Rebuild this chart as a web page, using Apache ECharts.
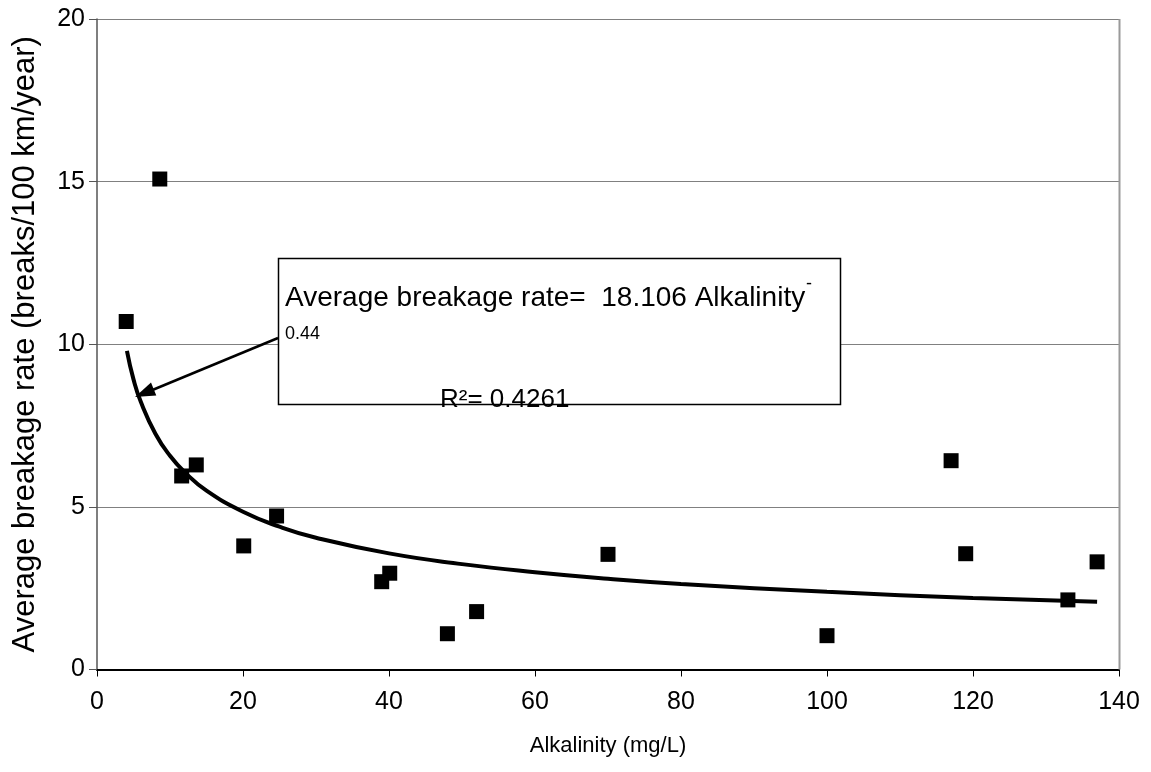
<!DOCTYPE html>
<html>
<head>
<meta charset="utf-8">
<script src="https://cdn.jsdelivr.net/npm/echarts@6/dist/echarts.min.js"></script>
<style>html,body{margin:0;padding:0;background:#fff}#c{width:1151px;height:772px}</style>
</head>
<body>
<div id="c"></div>
<script>
// Observed data points
const alkalinity = [4.0, 8.6, 11.6, 13.6, 20.1, 24.6, 39.0, 40.1, 48.0, 52.0, 70.0, 100.0, 117.0, 119.0, 133.0, 137.0];
const breakRate  = [10.70, 15.08, 5.95, 6.29, 3.80, 4.72, 2.70, 2.96, 1.10, 1.78, 3.54, 1.04, 6.42, 3.56, 2.14, 3.31];
// Power trendline as drawn in the picture
const trendX = [4.1, 5, 6, 8, 10, 12, 15, 20, 25, 30, 40, 50, 60, 70, 80, 100, 120, 137];
const trendY = [9.80, 8.92, 8.23, 7.25, 6.57, 6.07, 5.50, 4.85, 4.39, 4.05, 3.57, 3.24, 2.99, 2.79, 2.63, 2.39, 2.20, 2.08];
const xTicks = [0, 20, 40, 60, 80, 100, 120, 140];
const yTicks = [0, 5, 10, 15, 20];
const eqText = 'Average breakage rate=  18.106 Alkalinity';
const eqExp = '0.44';
const r2Text = 'R²= 0.4261';

const FONT = 'Liberation Sans, Arial, sans-serif';
const chart = echarts.init(document.getElementById('c'), null, {renderer: 'canvas'});

const option = {
  animation: false,
  backgroundColor: '#fff',
  grid: {left: 97, right: 32, top: 19, bottom: 102.5},
  xAxis: {
    type: 'value', min: xTicks[0], max: xTicks[xTicks.length - 1], interval: 20,
    name: 'Alkalinity (mg/L)', nameLocation: 'middle', nameGap: 65,
    nameTextStyle: {fontFamily: FONT, fontSize: 22, color: '#000'},
    axisLine: {show: true, onZero: false, lineStyle: {color: '#000', width: 2}},
    axisTick: {show: true, length: 7, lineStyle: {color: '#000', width: 1}},
    axisLabel: {fontFamily: FONT, fontSize: 25, color: '#000', margin: 20},
    splitLine: {show: false}
  },
  yAxis: {
    type: 'value', min: yTicks[0], max: yTicks[yTicks.length - 1], interval: 5,
    name: 'Average breakage rate (breaks/100 km/year)', nameLocation: 'middle', nameGap: 56,
    nameTextStyle: {fontFamily: FONT, fontSize: 31, color: '#000'},
    axisLine: {show: true, onZero: false, lineStyle: {color: '#555', width: 1.5}},
    axisTick: {show: true, inside: false, length: 8, lineStyle: {color: '#555', width: 1}},
    axisLabel: {fontFamily: FONT, fontSize: 25, color: '#000', margin: 12},
    splitLine: {show: true, lineStyle: {color: '#808080', width: 1}}
  },
  series: [
    {
      type: 'line', data: trendX.map((x, i) => [x, trendY[i]]),
      smooth: true, showSymbol: false, symbol: 'none',
      lineStyle: {color: '#000', width: 4}, z: 2
    },
    {
      type: 'scatter', data: alkalinity.map((x, i) => [x, breakRate[i]]),
      symbol: 'rect', symbolSize: 15,
      itemStyle: {color: '#000', opacity: 1, borderRadius: 2}, z: 3
    }
  ],
  graphic: [
    // right border of plot area
    {type: 'line', shape: {x1: 1119.5, y1: 19, x2: 1119.5, y2: 669.5}, style: {stroke: '#9a9a9a', lineWidth: 2}, z: 1},
    // annotation box
    {type: 'rect', shape: {x: 278.5, y: 258.5, width: 562, height: 146}, style: {fill: '#fff', stroke: '#000', lineWidth: 1.5}, z: 10},
    {type: 'text', x: 285, y: 298, style: {text: eqText, font: '28px ' + FONT, fill: '#000', textVerticalAlign: 'middle'}, z: 11},
    {type: 'text', x: 806, y: 284, style: {text: '-', font: '18px ' + FONT, fill: '#000', textVerticalAlign: 'middle'}, z: 11},
    {type: 'text', x: 285, y: 334, style: {text: eqExp, font: '18px ' + FONT, fill: '#000', textVerticalAlign: 'middle'}, z: 11},
    {type: 'text', x: 440, y: 400, style: {text: r2Text, font: '26px ' + FONT, fill: '#000', textVerticalAlign: 'middle'}, z: 12},
    // arrow
    {type: 'line', shape: {x1: 278, y1: 338, x2: 150, y2: 391}, style: {stroke: '#000', lineWidth: 2.5}, z: 12},
    {type: 'polygon', shape: {points: [[135, 397], [156.3, 395.4], [151.0, 382.6]]}, style: {fill: '#000'}, z: 12}
  ]
};
chart.setOption(option);
</script>
</body>
</html>
